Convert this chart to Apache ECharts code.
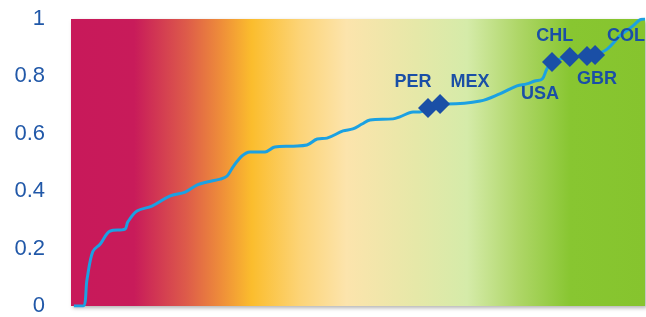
<!DOCTYPE html>
<html>
<head>
<meta charset="utf-8">
<script src="https://cdn.jsdelivr.net/npm/echarts@6/dist/echarts.min.js"></script>
<style>
  html, body { margin: 0; padding: 0; background: #fff; }
  #main { width: 646px; height: 317px; }
</style>
</head>
<body>
<div id="main"></div>
<script>
// cumulative curve, x = position along the ranking (0-100), y = share
var curveX = [0.5, 2.1, 2.8, 3.8, 5.1, 6.8, 9.4, 9.9, 11.5, 14.1, 17.2, 19.9, 22.0, 23.7, 26.0,
  27.2, 28.2, 29.8, 31.2, 33.8, 35.5, 38.7, 41.1, 42.9, 44.6, 47.4, 49.1, 50.7, 52.1, 56.1,
  57.3, 59.6, 60.8, 62.2, 64.3, 65.5, 71.3, 74.7, 77.7, 79.4, 80.8, 82.1, 82.9, 83.8, 86.9,
  89.9, 91.3, 93.4, 95.6, 97.9, 99.1, 100];
var curveY = [0, 0, 0.094, 0.19, 0.216, 0.261, 0.268, 0.293, 0.331, 0.348, 0.383, 0.397, 0.422, 0.432, 0.442,
  0.453, 0.484, 0.523, 0.537, 0.537, 0.554, 0.557, 0.561, 0.582, 0.585, 0.61, 0.617, 0.634, 0.648, 0.652,
  0.659, 0.676, 0.676, 0.69, 0.704, 0.704, 0.714, 0.739, 0.767, 0.774, 0.784, 0.791, 0.826, 0.85, 0.868,
  0.871, 0.875, 0.895, 0.941, 0.976, 0.997, 1.0];

// highlighted countries
var countryCodes = ['PER', 'MEX', 'USA', 'CHL', 'GBR', 'COL'];
var countryX = [62.2, 64.3, 83.8, 86.9, 89.9, 91.3];
var countryY = [0.69, 0.704, 0.85, 0.868, 0.871, 0.875];

var yTicks = [0, 0.2, 0.4, 0.6, 0.8, 1];

// label placement around each diamond
var labelOffset = {
  PER: [-15, -26], MEX: [30, -22], USA: [-12, 32],
  CHL: [-15, -21], GBR: [10, 23], COL: [31, -19]
};

var curveData = curveX.map(function (x, i) { return [x, curveY[i]]; });
var countryData = countryCodes.map(function (c, i) {
  return {
    name: c,
    value: [countryX[i], countryY[i]],
    label: { offset: labelOffset[c] }
  };
});

var chart = echarts.init(document.getElementById('main'));
chart.setOption({
  animation: false,
  grid: {
    left: 71, right: 1, top: 19, bottom: 10,
    show: true,
    borderWidth: 0,
    shadowColor: 'rgba(0,0,0,0.3)',
    shadowBlur: 4,
    shadowOffsetX: 2,
    shadowOffsetY: 2,
    backgroundColor: new echarts.graphic.LinearGradient(0, 0, 1, 0, [
      { offset: 0, color: '#C8195A' },
      { offset: 0.11, color: '#C81B5A' },
      { offset: 0.2, color: '#DD5A4A' },
      { offset: 0.26, color: '#EE8C3A' },
      { offset: 0.315, color: '#FBBD2D' },
      { offset: 0.40, color: '#FCD478' },
      { offset: 0.48, color: '#FCE4AC' },
      { offset: 0.60, color: '#E6E8A8' },
      { offset: 0.69, color: '#D5EBA9' },
      { offset: 0.78, color: '#AED667' },
      { offset: 0.87, color: '#88C631' },
      { offset: 1, color: '#86C42E' }
    ])
  },
  xAxis: {
    type: 'value', min: 0, max: 100, show: false
  },
  yAxis: {
    type: 'value', min: yTicks[0], max: yTicks[yTicks.length - 1], interval: 0.2,
    axisLine: { show: false },
    axisTick: { show: false },
    splitLine: { show: false },
    axisLabel: {
      margin: 26,
      color: '#2158A8',
      fontSize: 22,
      fontFamily: 'Liberation Sans, Arial, sans-serif'
    }
  },
  series: [
    {
      type: 'line',
      data: curveData,
      smooth: 0.35,
      symbol: 'none',
      lineStyle: { color: '#1BA1E2', width: 3 },
      z: 2
    },
    {
      type: 'scatter',
      data: countryData,
      symbol: 'diamond',
      symbolSize: 20,
      itemStyle: { color: '#1A4FA6', opacity: 1 },
      emphasis: { disabled: true },
      label: {
        show: true,
        position: 'inside',
        formatter: '{b}',
        color: '#1A4FA6',
        textBorderWidth: 0,
        fontSize: 18,
        fontWeight: 'bold',
        fontFamily: 'Liberation Sans, Arial, sans-serif'
      },
      z: 3
    }
  ]
});
</script>
</body>
</html>
